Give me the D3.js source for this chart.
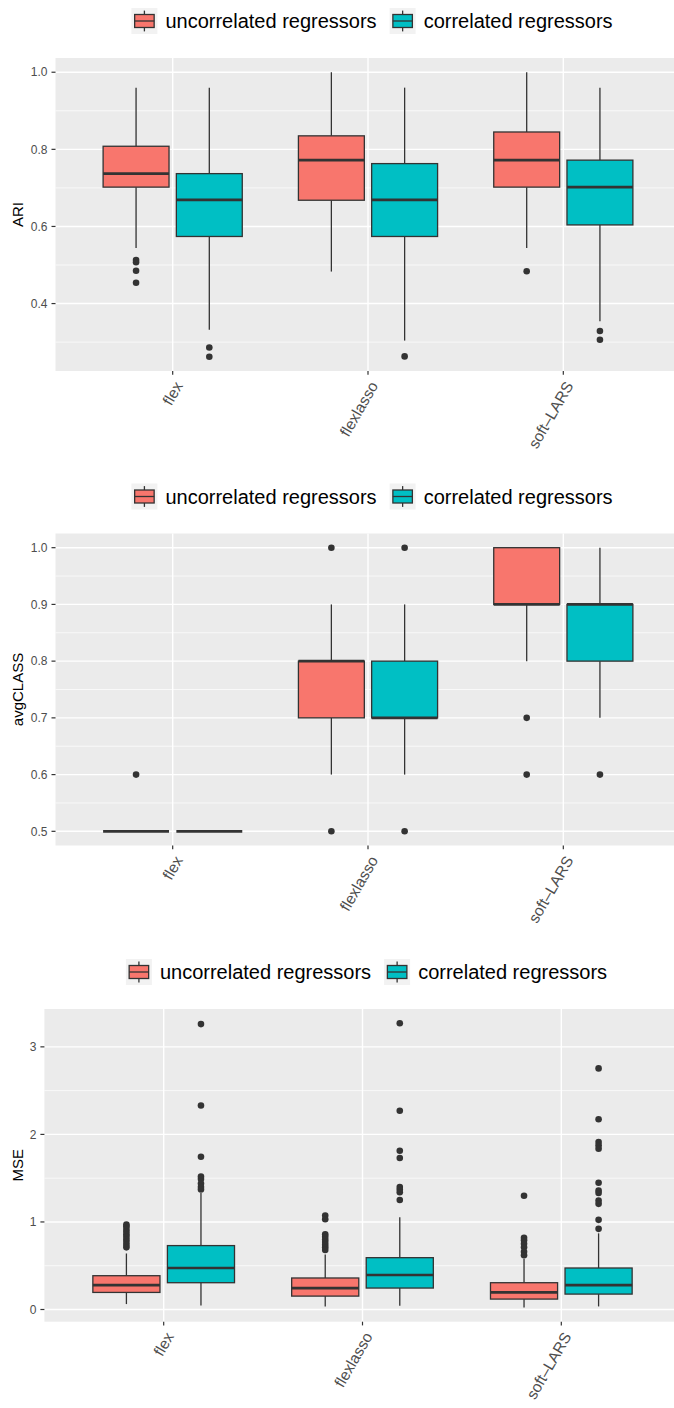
<!DOCTYPE html>
<html>
<head>
<meta charset="utf-8">
<script src="https://cdn.jsdelivr.net/npm/d3@7"></script>
<style>
  body { margin: 0; background: #fff; }
  svg { display: block; font-family: "Liberation Sans", Arial, Helvetica, sans-serif; }
</style>
</head>
<body>
<div id="chart"></div>
<script>
// categories and groups
const methods = ["flex", "flexlasso", "soft\u2013LARS"];
const groups = ["uncorrelated regressors", "correlated regressors"];
const groupColors = ["#F8766D", "#00BFC4"];

// box stats per method: [lower whisker, Q1, median, Q3, upper whisker]
const ariUncorrStats = [[0.544, 0.702, 0.737, 0.808, 0.96], [0.483, 0.668, 0.772, 0.835, 1.0], [0.544, 0.702, 0.772, 0.845, 1.0]];
const ariCorrStats   = [[0.332, 0.574, 0.669, 0.737, 0.96], [0.304, 0.574, 0.669, 0.763, 0.96], [0.354, 0.604, 0.702, 0.772, 0.96]];
const ariUncorrOutliers = [[0.513, 0.507, 0.485, 0.454], [], [0.484]];
const ariCorrOutliers   = [[0.286, 0.262], [0.263], [0.329, 0.306]];
const ariTicks = [0.4, 0.6, 0.8, 1.0];

const classUncorrStats = [[0.5, 0.5, 0.5, 0.5, 0.5], [0.6, 0.7, 0.8, 0.8, 0.9], [0.8, 0.9, 0.9, 1.0, 1.0]];
const classCorrStats   = [[0.5, 0.5, 0.5, 0.5, 0.5], [0.6, 0.7, 0.7, 0.8, 0.9], [0.7, 0.8, 0.9, 0.9, 1.0]];
const classUncorrOutliers = [[0.6], [1.0, 0.5], [0.7, 0.6]];
const classCorrOutliers   = [[], [1.0, 0.5], [0.6]];
const classTicks = [0.5, 0.6, 0.7, 0.8, 0.9, 1.0];

const mseUncorrStats = [[0.062, 0.195, 0.279, 0.386, 0.64], [0.035, 0.153, 0.245, 0.36, 0.627], [0.023, 0.119, 0.195, 0.306, 0.58]];
const mseCorrStats   = [[0.046, 0.306, 0.474, 0.73, 1.33], [0.042, 0.245, 0.394, 0.592, 1.054], [0.035, 0.176, 0.279, 0.474, 0.87]];
const mseUncorrOutliers = [
  [0.97, 0.95, 0.92, 0.89, 0.86, 0.83, 0.80, 0.77, 0.74, 0.71],
  [1.073, 1.03, 0.86, 0.83, 0.80, 0.77, 0.74, 0.71, 0.68],
  [1.30, 0.82, 0.79, 0.75, 0.71, 0.66, 0.62]
];
const mseCorrOutliers = [
  [3.26, 2.33, 1.745, 1.52, 1.49, 1.44, 1.40, 1.37],
  [3.27, 2.27, 1.814, 1.73, 1.40, 1.37, 1.34, 1.25],
  [2.754, 2.173, 1.913, 1.875, 1.837, 1.448, 1.36, 1.33, 1.245, 1.207, 1.024, 0.921]
];
const mseTicks = [0, 1, 2, 3];

const panels = [
  { label: "ARI", stats: [ariUncorrStats, ariCorrStats], outliers: [ariUncorrOutliers, ariCorrOutliers], ticks: ariTicks, fmt: d3.format(".1f") },
  { label: "avgCLASS", stats: [classUncorrStats, classCorrStats], outliers: [classUncorrOutliers, classCorrOutliers], ticks: classTicks, fmt: d3.format(".1f") },
  { label: "MSE", stats: [mseUncorrStats, mseCorrStats], outliers: [mseUncorrOutliers, mseCorrOutliers], ticks: mseTicks, fmt: d3.format("d") }
];

// panel placement (pixels)
const layouts = [
  { left: 55.5, right: 680.5, top: 58, bottom: 371 },
  { left: 55.5, right: 680.5, top: 533.5, bottom: 845.5 },
  { left: 44.4, right: 680.6, top: 1009, bottom: 1321.7 }
];

const W = 674, H = 1408;
const ink = "#333333", textGray = "#4D4D4D";

const svg = d3.select("#chart").append("svg")
  .attr("width", W)
  .attr("height", H);

panels.forEach((p, i) => {
  const L = layouts[i];
  const g = svg.append("g");

  // y domain: data range expanded by 5%
  const all = [];
  p.stats.forEach(s => s.forEach(b => all.push(b[0], b[4])));
  p.outliers.forEach(o => o.forEach(arr => all.push(...arr)));
  const lo = d3.min(all), hi = d3.max(all), pad = (hi - lo) * 0.05;

  const y = d3.scaleLinear().domain([lo - pad, hi + pad]).range([L.bottom, L.top]);
  const x = d3.scalePoint().domain(methods).range([L.left, L.right]).padding(0.6);
  const step = x.step();

  // panel background
  g.append("rect")
    .attr("x", L.left).attr("y", L.top)
    .attr("width", L.right - L.left).attr("height", L.bottom - L.top)
    .attr("fill", "#EBEBEB");

  // minor grid: midpoints of major ticks
  const tstep = p.ticks[1] - p.ticks[0];
  const minor = [];
  for (let k = -1; k < p.ticks.length; k++) {
    const v = p.ticks[0] + (k + 0.5) * tstep;
    if (v > y.domain()[0] && v < y.domain()[1]) minor.push(v);
  }
  g.selectAll(".minor").data(minor).join("line")
    .attr("x1", L.left).attr("x2", L.right)
    .attr("y1", d => y(d)).attr("y2", d => y(d))
    .attr("stroke", "#fff").attr("stroke-width", 0.7);

  g.selectAll(".major").data(p.ticks).join("line")
    .attr("x1", L.left).attr("x2", L.right)
    .attr("y1", d => y(d)).attr("y2", d => y(d))
    .attr("stroke", "#fff").attr("stroke-width", 1.4);

  g.selectAll(".vgrid").data(methods).join("line")
    .attr("x1", d => x(d)).attr("x2", d => x(d))
    .attr("y1", L.top).attr("y2", L.bottom)
    .attr("stroke", "#fff").attr("stroke-width", 1.4);

  // boxes
  const halfW = 0.16875 * step;
  groups.forEach((grp, gi) => {
    const off = (gi === 0 ? -1 : 1) * 0.1875 * step;
    methods.forEach((m, mi) => {
      const b = p.stats[gi][mi];
      const cx = x(m) + off;
      const bg = g.append("g");
      bg.append("line")
        .attr("x1", cx).attr("x2", cx)
        .attr("y1", y(b[4])).attr("y2", y(b[3]))
        .attr("stroke", ink).attr("stroke-width", 1.3);
      bg.append("line")
        .attr("x1", cx).attr("x2", cx)
        .attr("y1", y(b[1])).attr("y2", y(b[0]))
        .attr("stroke", ink).attr("stroke-width", 1.3);
      bg.append("rect")
        .attr("x", cx - halfW).attr("width", 2 * halfW)
        .attr("y", y(b[3])).attr("height", y(b[1]) - y(b[3]))
        .attr("fill", groupColors[gi])
        .attr("stroke", ink).attr("stroke-width", 1.3);
      bg.append("line")
        .attr("x1", cx - halfW).attr("x2", cx + halfW)
        .attr("y1", y(b[2])).attr("y2", y(b[2]))
        .attr("stroke", ink).attr("stroke-width", 2.7);
      bg.selectAll("circle").data(p.outliers[gi][mi]).join("circle")
        .attr("cx", cx).attr("cy", d => y(d)).attr("r", 3.3)
        .attr("fill", ink);
    });
  });

  // y axis ticks and labels
  g.selectAll(".ytick").data(p.ticks).join("line")
    .attr("x1", L.left - 4).attr("x2", L.left)
    .attr("y1", d => y(d)).attr("y2", d => y(d))
    .attr("stroke", ink).attr("stroke-width", 1.2);
  g.selectAll(".ylab").data(p.ticks).join("text")
    .attr("x", L.left - 8).attr("y", d => y(d))
    .attr("dy", "0.35em")
    .attr("text-anchor", "end")
    .attr("font-size", 12)
    .attr("fill", textGray)
    .text(d => p.fmt(d));

  // x axis ticks and rotated labels
  g.selectAll(".xtick").data(methods).join("line")
    .attr("x1", d => x(d)).attr("x2", d => x(d))
    .attr("y1", L.bottom).attr("y2", L.bottom + 3.7)
    .attr("stroke", ink).attr("stroke-width", 1.2);
  g.selectAll(".xlab").data(methods).join("text")
    .attr("transform", d => `translate(${x(d) + 1},${L.bottom + 9}) rotate(-60)`)
    .attr("dy", "0.72em")
    .attr("text-anchor", "end")
    .attr("font-size", 15.5)
    .attr("fill", textGray)
    .text(d => d);

  // y axis title
  g.append("text")
    .attr("transform", `translate(23,${(L.top + L.bottom) / 2}) rotate(-90)`)
    .attr("text-anchor", "middle")
    .attr("font-size", 15)
    .attr("fill", "#000")
    .text(p.label);

  // legend
  const leg = g.append("g");
  let cur = 0;
  const keyS = 26;
  groups.forEach((grp, gi) => {
    const item = leg.append("g").attr("transform", `translate(${cur},0)`);
    item.append("rect")
      .attr("x", 0).attr("y", -keyS / 2).attr("width", keyS).attr("height", keyS)
      .attr("fill", "#F2F2F2");
    item.append("line")
      .attr("x1", keyS / 2).attr("x2", keyS / 2)
      .attr("y1", -keyS / 2 + keyS * 0.1).attr("y2", keyS / 2 - keyS * 0.1)
      .attr("stroke", ink).attr("stroke-width", 1.3);
    item.append("rect")
      .attr("x", keyS * 0.125).attr("y", -keyS * 0.25)
      .attr("width", keyS * 0.75).attr("height", keyS * 0.5)
      .attr("fill", groupColors[gi])
      .attr("stroke", ink).attr("stroke-width", 1.3);
    item.append("line")
      .attr("x1", keyS * 0.125).attr("x2", keyS * 0.875)
      .attr("y1", 0).attr("y2", 0)
      .attr("stroke", ink).attr("stroke-width", 1.3);
    const t = item.append("text")
      .attr("x", keyS + 8).attr("y", 0)
      .attr("dy", "0.35em")
      .attr("font-size", 20)
      .attr("fill", "#000")
      .text(grp);
    cur += keyS + 8 + t.node().getComputedTextLength() + 13;
  });
  const legW = cur - 13;
  leg.attr("transform", `translate(${(L.left + L.right) / 2 + 4 - legW / 2},${L.top - 37})`);
});
</script>
</body>
</html>
